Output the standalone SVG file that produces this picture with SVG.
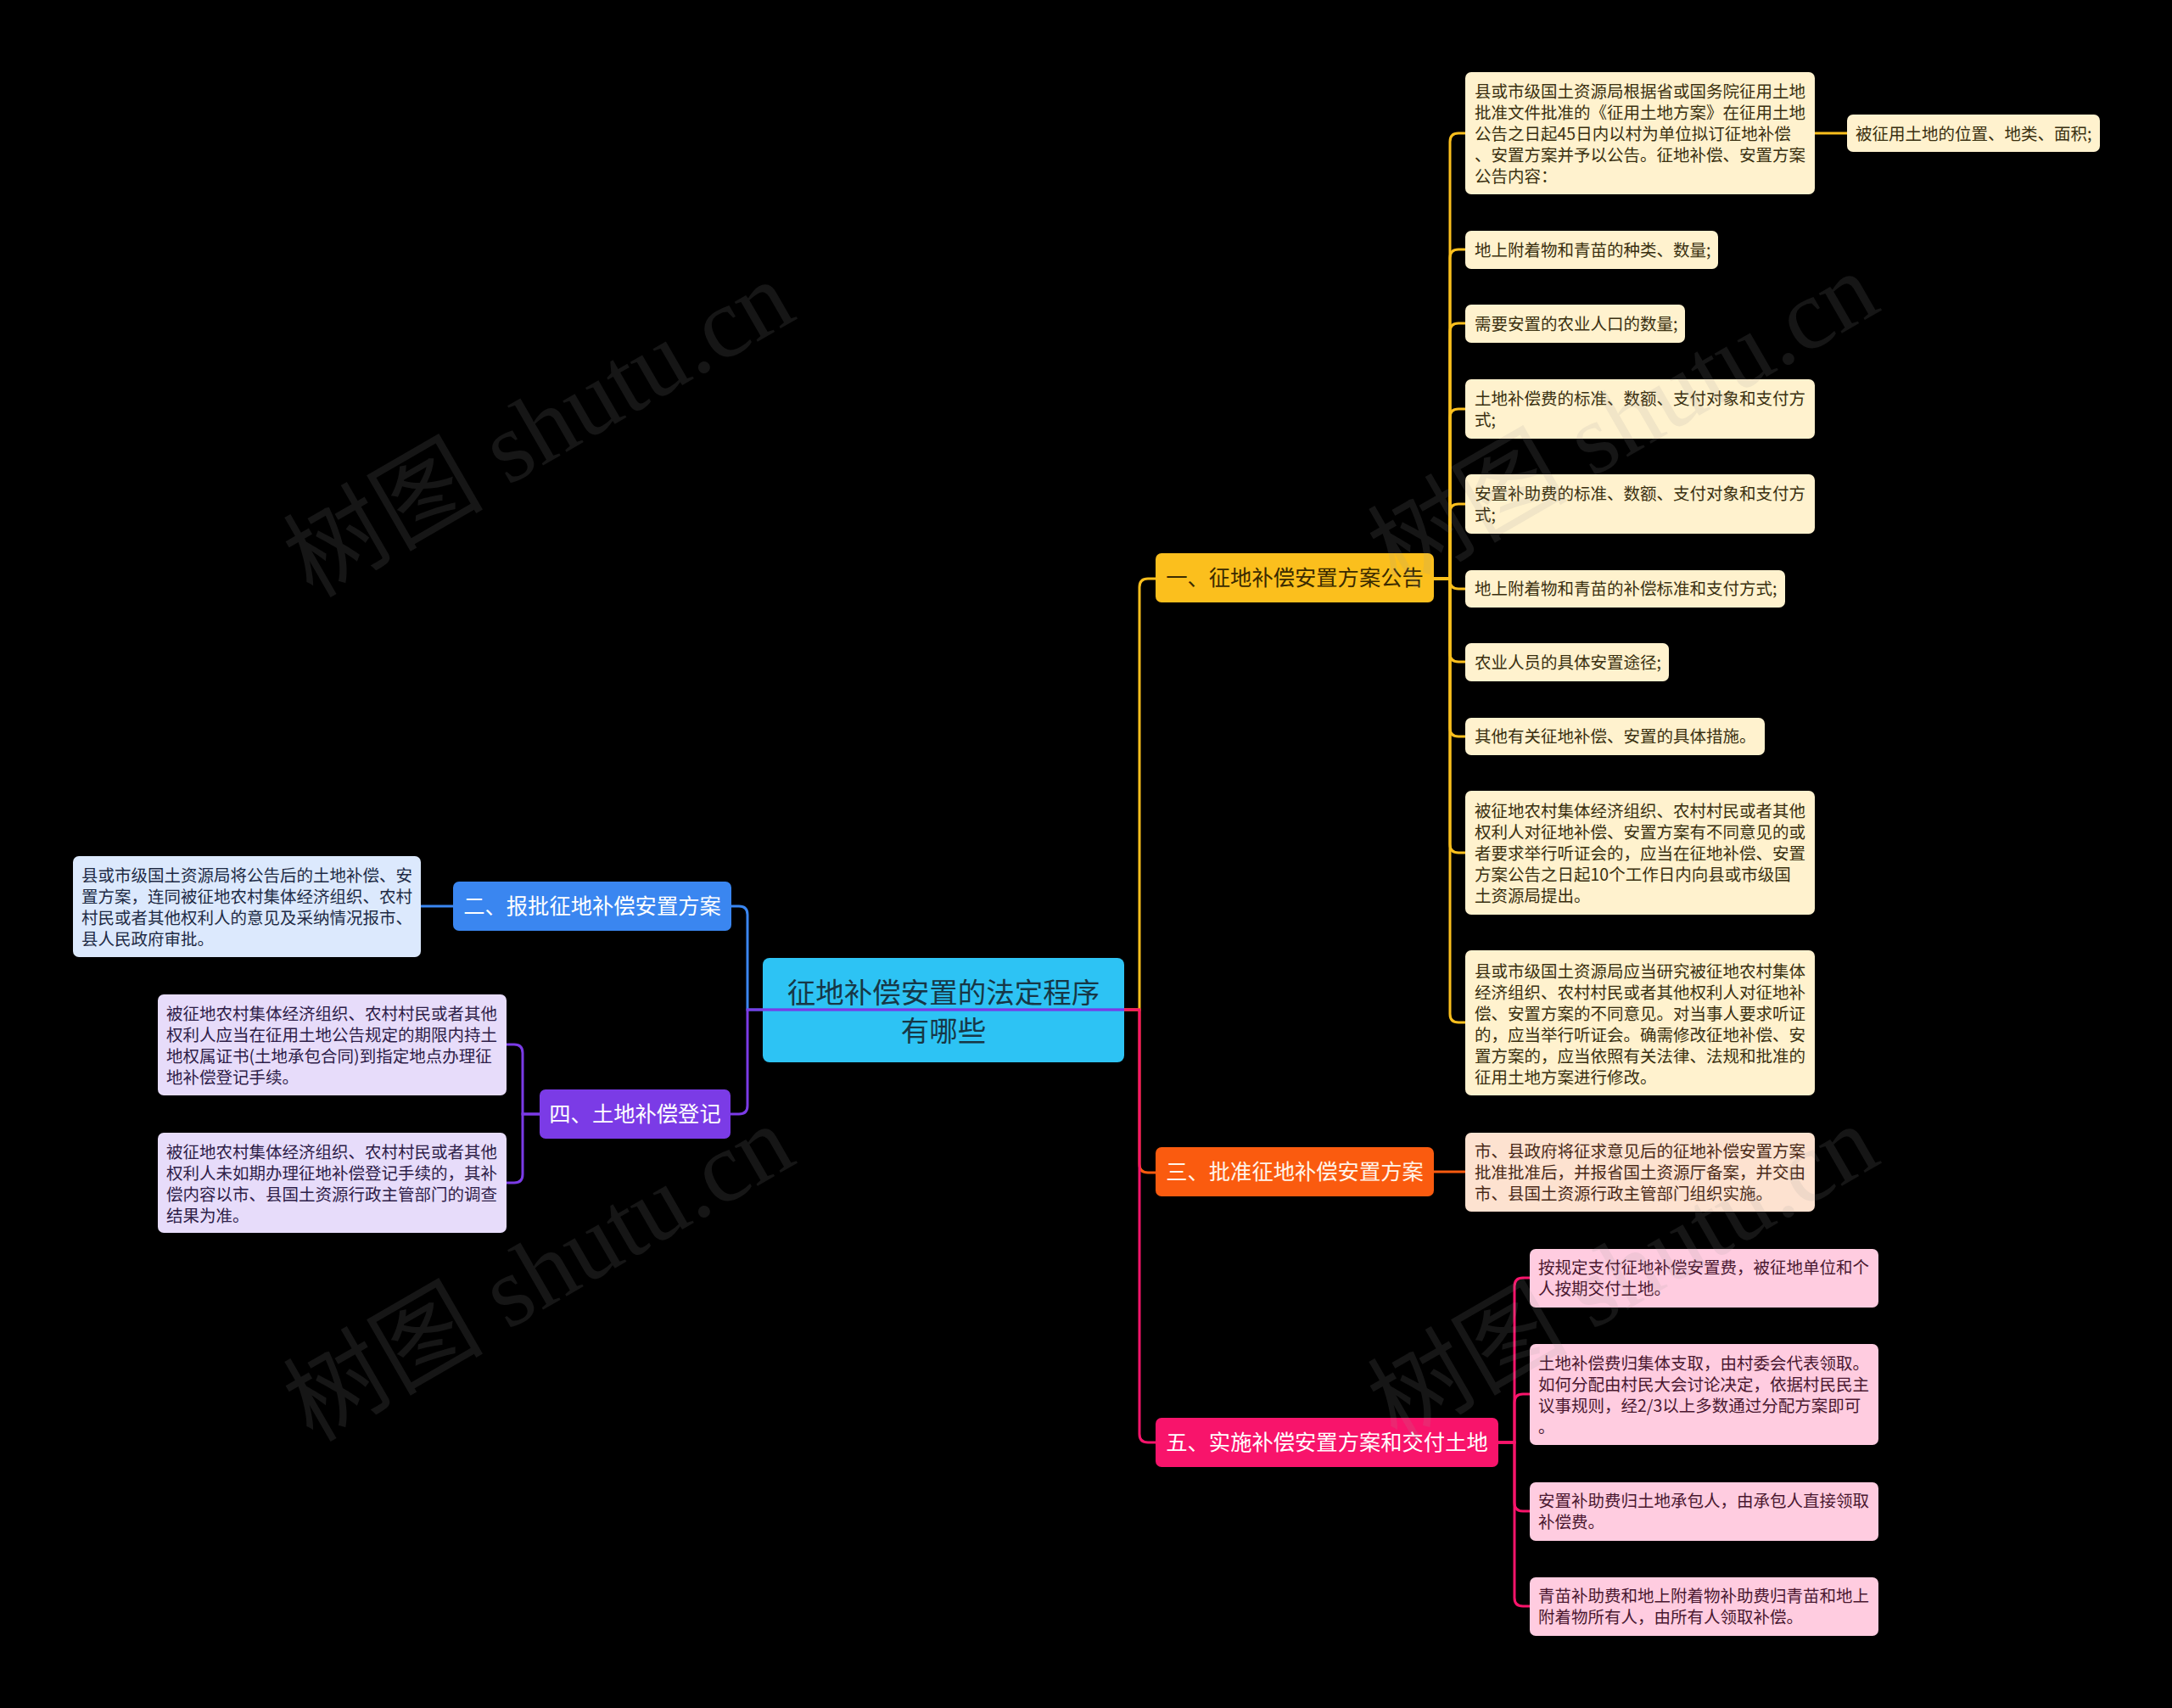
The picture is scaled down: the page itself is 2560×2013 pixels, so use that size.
<svg xmlns="http://www.w3.org/2000/svg" width="2560" height="2013" viewBox="0 0 2560 2013">
<style>
.t{font-family:"Noto Sans CJK SC","Noto Sans",sans-serif}
.leaf{font-size:19.5px}
.br{font-size:25.3px;text-anchor:middle}
.root{font-size:33.5px;text-anchor:middle;fill:#173746}
.wm{font-family:"Liberation Serif","Noto Sans CJK SC",serif;font-size:118px;fill:#9a9a9a;fill-opacity:0.14;text-anchor:middle}
.ty{fill:#3a3010}.tp{fill:#4a2a18}.tk{fill:#4a1830}.tb{fill:#1e2b45}.tl{fill:#2e2048}
.ny{fill:#FFF2CE}.np{fill:#FDE2D0}.nk{fill:#FFCCE0}.nb{fill:#DCE9FD}.nl{fill:#E7DCFA}
.c{fill:none;stroke-width:3}
.cy{stroke:#FBBF1D}.co{stroke:#FA5B0F}.ck{stroke:#F8146B}.cb{stroke:#3A86F0}.cl{stroke:#7B3BE6}
</style>
<rect x="0" y="0" width="2560" height="2013" fill="#000"/>

<g id="root">
<rect x="899" y="1129" width="426" height="123" rx="8" fill="#2DC3F4"/>
<text class="t root" x="1112" y="1182">征地补偿安置的法定程序</text>
<text class="t root" x="1112" y="1227">有哪些</text>
</g>

<g id="b1">
<rect x="1362" y="652" width="328" height="58" rx="7" fill="#FBBF1D"/>
<text class="t br" x="1526" y="690" fill="#3a2a00">一、征地补偿安置方案公告</text>
</g>
<g id="b2">
<rect x="534" y="1039" width="328" height="58" rx="7" fill="#3A86F0"/>
<text class="t br" x="698" y="1077" fill="#fff">二、报批征地补偿安置方案</text>
</g>
<g id="b3">
<rect x="1362" y="1352" width="328" height="58" rx="7" fill="#FA5B0F"/>
<text class="t br" x="1526" y="1390" fill="#fff4ea">三、批准征地补偿安置方案</text>
</g>
<g id="b4">
<rect x="636" y="1284" width="225" height="58" rx="7" fill="#7B3BE6"/>
<text class="t br" x="748.5" y="1322" fill="#fff">四、土地补偿登记</text>
</g>
<g id="b5">
<rect x="1362" y="1671" width="404" height="58" rx="7" fill="#F8146B"/>
<text class="t br" x="1564" y="1709" fill="#fff">五、实施补偿安置方案和交付土地</text>
</g>

<g id="n1a">
<rect class="ny" x="1727" y="85" width="412" height="144" rx="7"/>
<text class="t leaf ty" x="1738" y="115">县或市级国土资源局根据省或国务院征用土地</text>
<text class="t leaf ty" x="1738" y="140">批准文件批准的《征用土地方案》在征用土地</text>
<text class="t leaf ty" x="1738" y="165">公告之日起45日内以村为单位拟订征地补偿</text>
<text class="t leaf ty" x="1738" y="190">、安置方案并予以公告。征地补偿、安置方案</text>
<text class="t leaf ty" x="1738" y="215">公告内容：</text>
</g>
<g id="n1a1">
<rect class="ny" x="2177" y="135" width="298" height="44" rx="7"/>
<text class="t leaf ty" x="2187" y="165">被征用土地的位置、地类、面积;</text>
</g>
<g id="n1b">
<rect class="ny" x="1727" y="272" width="298" height="45" rx="7"/>
<text class="t leaf ty" x="1738" y="302">地上附着物和青苗的种类、数量;</text>
</g>
<g id="n1c">
<rect class="ny" x="1727" y="359" width="259" height="45" rx="7"/>
<text class="t leaf ty" x="1738" y="389">需要安置的农业人口的数量;</text>
</g>
<g id="n1d">
<rect class="ny" x="1727" y="447" width="412" height="70" rx="7"/>
<text class="t leaf ty" x="1738" y="477">土地补偿费的标准、数额、支付对象和支付方</text>
<text class="t leaf ty" x="1738" y="502">式;</text>
</g>
<g id="n1e">
<rect class="ny" x="1727" y="559" width="412" height="70" rx="7"/>
<text class="t leaf ty" x="1738" y="589">安置补助费的标准、数额、支付对象和支付方</text>
<text class="t leaf ty" x="1738" y="614">式;</text>
</g>
<g id="n1f">
<rect class="ny" x="1727" y="672" width="377" height="44" rx="7"/>
<text class="t leaf ty" x="1738" y="701">地上附着物和青苗的补偿标准和支付方式;</text>
</g>
<g id="n1g">
<rect class="ny" x="1727" y="758" width="240" height="45" rx="7"/>
<text class="t leaf ty" x="1738" y="788">农业人员的具体安置途径;</text>
</g>
<g id="n1h">
<rect class="ny" x="1727" y="846" width="353" height="44" rx="7"/>
<text class="t leaf ty" x="1738" y="875">其他有关征地补偿、安置的具体措施。</text>
</g>
<g id="n1i">
<rect class="ny" x="1727" y="932" width="412" height="146" rx="7"/>
<text class="t leaf ty" x="1738" y="963">被征地农村集体经济组织、农村村民或者其他</text>
<text class="t leaf ty" x="1738" y="988">权利人对征地补偿、安置方案有不同意见的或</text>
<text class="t leaf ty" x="1738" y="1013">者要求举行听证会的，应当在征地补偿、安置</text>
<text class="t leaf ty" x="1738" y="1038">方案公告之日起10个工作日内向县或市级国</text>
<text class="t leaf ty" x="1738" y="1063">土资源局提出。</text>
</g>
<g id="n1j">
<rect class="ny" x="1727" y="1120" width="412" height="171" rx="7"/>
<text class="t leaf ty" x="1738" y="1152">县或市级国土资源局应当研究被征地农村集体</text>
<text class="t leaf ty" x="1738" y="1177">经济组织、农村村民或者其他权利人对征地补</text>
<text class="t leaf ty" x="1738" y="1202">偿、安置方案的不同意见。对当事人要求听证</text>
<text class="t leaf ty" x="1738" y="1227">的，应当举行听证会。确需修改征地补偿、安</text>
<text class="t leaf ty" x="1738" y="1252">置方案的，应当依照有关法律、法规和批准的</text>
<text class="t leaf ty" x="1738" y="1277">征用土地方案进行修改。</text>
</g>

<g id="n2a">
<rect class="nb" x="86" y="1009" width="410" height="119" rx="7"/>
<text class="t leaf tb" x="96" y="1039">县或市级国土资源局将公告后的土地补偿、安</text>
<text class="t leaf tb" x="96" y="1064">置方案，连同被征地农村集体经济组织、农村</text>
<text class="t leaf tb" x="96" y="1089">村民或者其他权利人的意见及采纳情况报市、</text>
<text class="t leaf tb" x="96" y="1114">县人民政府审批。</text>
</g>

<g id="n3a">
<rect class="np" x="1727" y="1335" width="412" height="93" rx="7"/>
<text class="t leaf tp" x="1738" y="1364">市、县政府将征求意见后的征地补偿安置方案</text>
<text class="t leaf tp" x="1738" y="1389">批准批准后，并报省国土资源厅备案，并交由</text>
<text class="t leaf tp" x="1738" y="1414">市、县国土资源行政主管部门组织实施。</text>
</g>

<g id="n4a">
<rect class="nl" x="186" y="1172" width="411" height="119" rx="7"/>
<text class="t leaf tl" x="196" y="1202">被征地农村集体经济组织、农村村民或者其他</text>
<text class="t leaf tl" x="196" y="1227">权利人应当在征用土地公告规定的期限内持土</text>
<text class="t leaf tl" x="196" y="1252">地权属证书(土地承包合同)到指定地点办理征</text>
<text class="t leaf tl" x="196" y="1277">地补偿登记手续。</text>
</g>
<g id="n4b">
<rect class="nl" x="186" y="1335" width="411" height="118" rx="7"/>
<text class="t leaf tl" x="196" y="1365">被征地农村集体经济组织、农村村民或者其他</text>
<text class="t leaf tl" x="196" y="1390">权利人未如期办理征地补偿登记手续的，其补</text>
<text class="t leaf tl" x="196" y="1415">偿内容以市、县国土资源行政主管部门的调查</text>
<text class="t leaf tl" x="196" y="1440">结果为准。</text>
</g>

<g id="n5a">
<rect class="nk" x="1803" y="1472" width="411" height="69" rx="7"/>
<text class="t leaf tk" x="1813" y="1501">按规定支付征地补偿安置费，被征地单位和个</text>
<text class="t leaf tk" x="1813" y="1526">人按期交付土地。</text>
</g>
<g id="n5b">
<rect class="nk" x="1803" y="1584" width="411" height="119" rx="7"/>
<text class="t leaf tk" x="1813" y="1614">土地补偿费归集体支取，由村委会代表领取。</text>
<text class="t leaf tk" x="1813" y="1639">如何分配由村民大会讨论决定，依据村民民主</text>
<text class="t leaf tk" x="1813" y="1664">议事规则，经2/3以上多数通过分配方案即可</text>
<text class="t leaf tk" x="1813" y="1689">。</text>
</g>
<g id="n5c">
<rect class="nk" x="1803" y="1747" width="411" height="69" rx="7"/>
<text class="t leaf tk" x="1813" y="1776">安置补助费归土地承包人，由承包人直接领取</text>
<text class="t leaf tk" x="1813" y="1801">补偿费。</text>
</g>
<g id="n5d">
<rect class="nk" x="1803" y="1859" width="411" height="69" rx="7"/>
<text class="t leaf tk" x="1813" y="1888">青苗补助费和地上附着物补助费归青苗和地上</text>
<text class="t leaf tk" x="1813" y="1913">附着物所有人，由所有人领取补偿。</text>
</g>

<g id="connectors">
<path class="c cy" d="M1325,1190 H1343 V692 Q1343,682 1353,682 H1362"/>
<path class="c co" d="M1325,1190 H1343 V1372 Q1343,1382 1353,1382 H1362"/>
<path class="c ck" d="M1325,1190 H1343 V1690 Q1343,1700 1353,1700 H1362"/>
<path class="c cb" d="M1325,1190 H881 V1078 Q881,1068 871,1068 H862"/>
<path class="c cl" d="M1325,1190 H881 V1303 Q881,1313 871,1313 H861"/>

<path class="c cy" d="M1690,682 H1709 V167 Q1709,157 1719,157 H1727"/>
<path class="c cy" d="M1690,682 H1709 V304 Q1709,294 1719,294 H1727"/>
<path class="c cy" d="M1690,682 H1709 V391 Q1709,381 1719,381 H1727"/>
<path class="c cy" d="M1690,682 H1709 V492 Q1709,482 1719,482 H1727"/>
<path class="c cy" d="M1690,682 H1709 V604 Q1709,594 1719,594 H1727"/>
<path class="c cy" d="M1690,682 H1709 V684 Q1709,694 1719,694 H1727"/>
<path class="c cy" d="M1690,682 H1709 V770 Q1709,780 1719,780 H1727"/>
<path class="c cy" d="M1690,682 H1709 V858 Q1709,868 1719,868 H1727"/>
<path class="c cy" d="M1690,682 H1709 V995 Q1709,1005 1719,1005 H1727"/>
<path class="c cy" d="M1690,682 H1709 V1195 Q1709,1205 1719,1205 H1727"/>
<path class="c cy" d="M2139,157 H2177"/>

<path class="c cb" d="M534,1068 H496"/>
<path class="c co" d="M1690,1381 H1727"/>

<path class="c cl" d="M636,1313 H616 V1241 Q616,1231 606,1231 H597"/>
<path class="c cl" d="M636,1313 H616 V1384 Q616,1394 606,1394 H597"/>

<path class="c ck" d="M1766,1700 H1785 V1516 Q1785,1506 1795,1506 H1803"/>
<path class="c ck" d="M1766,1700 H1785 V1653 Q1785,1643 1795,1643 H1803"/>
<path class="c ck" d="M1766,1700 H1785 V1771 Q1785,1781 1795,1781 H1803"/>
<path class="c ck" d="M1766,1700 H1785 V1883 Q1785,1893 1795,1893 H1803"/>
</g>

<g id="watermarks">
<text class="wm" x="655" y="540" transform="rotate(-30 655 540)">树图 shutu.cn</text>
<text class="wm" x="1933" y="530" transform="rotate(-30 1933 530)">树图 shutu.cn</text>
<text class="wm" x="655" y="1535" transform="rotate(-30 655 1535)">树图 shutu.cn</text>
<text class="wm" x="1933" y="1535" transform="rotate(-30 1933 1535)">树图 shutu.cn</text>
</g>
</svg>
